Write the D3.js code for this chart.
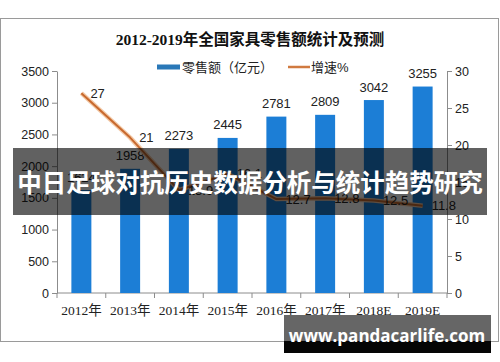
<!DOCTYPE html>
<html>
<head>
<meta charset="utf-8">
<script src="https://cdn.jsdelivr.net/npm/d3@7"></script>
<style>
  body { margin: 0; background: #fff; }
  svg { display: block; }
  text { font-family: "Liberation Sans", "Noto Sans CJK SC", sans-serif; }
</style>
</head>
<body>
<svg id="chart" width="500" height="362"></svg>
<script>
// Data
var years = ["2012年", "2013年", "2014年", "2015年", "2016年", "2017年", "2018E", "2019E"];
var sales = [1624, 1958, 2273, 2445, 2781, 2809, 3042, 3255];   // 零售额（亿元）
var growth = [27, 21, 13.9, 16.1, 12.7, 12.8, 12.5, 11.8];      // 增速%
var leftTicks = [0, 500, 1000, 1500, 2000, 2500, 3000, 3500];
var rightTicks = [0, 5, 10, 15, 20, 25, 30];

var barColor = "#1c7ed6";
var lineColor = "#c8692e";
var axisColor = "#8c8c8c";

var svg = d3.select("#chart");

// outer frame
svg.append("rect")
    .attr("x", 0.5).attr("y", 18.5)
    .attr("width", 498).attr("height", 323)
    .attr("fill", "#fff")
    .attr("stroke", "#9a9a9a");

// title
svg.append("text")
    .attr("x", 250).attr("y", 45)
    .attr("text-anchor", "middle")
    .style("font-family", "'Liberation Serif', 'Noto Sans CJK SC', serif")
    .style("font-size", "15.5px")
    .style("font-weight", "bold")
    .attr("fill", "#111")
    .text("2012-2019年全国家具零售额统计及预测");

// scales
var x = d3.scaleBand().domain(years).range([57, 447]).paddingInner(0.59).paddingOuter(0.295);
var yL = d3.scaleLinear().domain([0, 3500]).range([293, 71]);
var yR = d3.scaleLinear().domain([0, 30]).range([293, 71]);

// legend
var legend = svg.append("g").style("font-size", "13px").attr("fill", "#222");
legend.append("rect").attr("x", 157).attr("y", 64.5).attr("width", 23).attr("height", 5).attr("fill", "#2a78b8");
legend.append("text").attr("x", 182).attr("y", 67).attr("dy", "0.35em").text("零售额（亿元）");
legend.append("line").attr("x1", 288).attr("x2", 310).attr("y1", 67).attr("y2", 67)
    .attr("stroke", "#d07a40").attr("stroke-width", 2.5);
legend.append("text").attr("x", 311).attr("y", 67).attr("dy", "0.35em").text("增速%");

// left axis
var gL = svg.append("g")
    .attr("transform", "translate(57,0)")
    .call(d3.axisLeft(yL).tickValues(leftTicks).tickFormat(d3.format("d"))
        .tickSize(5).tickPadding(3).tickSizeOuter(0));
// right axis
var gR = svg.append("g")
    .attr("transform", "translate(447,0)")
    .call(d3.axisRight(yR).tickValues(rightTicks).tickFormat(d3.format("d"))
        .tickSize(5).tickPadding(3).tickSizeOuter(0));

[gL, gR].forEach(function (g) {
    g.select(".domain").attr("stroke", axisColor);
    g.selectAll(".tick line").attr("stroke", axisColor);
    g.selectAll(".tick text")
        .attr("fill", "#222")
        .style("font-family", "'Liberation Sans', sans-serif")
        .style("font-size", "12.5px");
});

// x axis: baseline, ticks on category boundaries, labels at centers
var gX = svg.append("g");
gX.append("line")
    .attr("x1", x.range()[0]).attr("x2", x.range()[1])
    .attr("y1", yL(0)).attr("y2", yL(0))
    .attr("stroke", axisColor);
gX.selectAll("line.tk")
    .data(d3.range(years.length + 1))
    .enter().append("line").attr("class", "tk")
    .attr("x1", function (i) { return x.range()[0] + i * x.step(); })
    .attr("x2", function (i) { return x.range()[0] + i * x.step(); })
    .attr("y1", yL(0)).attr("y2", yL(0) + 5)
    .attr("stroke", axisColor);
gX.selectAll("text")
    .data(years)
    .enter().append("text")
    .attr("x", function (d) { return x(d) + x.bandwidth() / 2; })
    .attr("y", 310)
    .attr("dy", "0.35em")
    .attr("text-anchor", "middle")
    .attr("fill", "#222")
    .style("font-family", "'Liberation Serif', 'Noto Sans CJK SC', serif")
    .style("font-size", "13.5px")
    .text(function (d) { return d; });

// bars
svg.append("g").selectAll("rect")
    .data(sales)
    .enter().append("rect")
    .attr("x", function (d, i) { return x(years[i]); })
    .attr("y", function (d) { return yL(d); })
    .attr("width", x.bandwidth())
    .attr("height", function (d) { return yL(0) - yL(d); })
    .attr("fill", barColor);

// bar labels
svg.append("g").selectAll("text")
    .data(sales)
    .enter().append("text")
    .attr("x", function (d, i) { return x(years[i]) + x.bandwidth() / 2; })
    .attr("y", function (d) { return yL(d) - 13; })
    .attr("dy", "0.35em")
    .attr("text-anchor", "middle")
    .attr("fill", "#222")
    .style("font-size", "13px")
    .text(function (d) { return d; });

// growth line
var line = d3.line()
    .x(function (d, i) { return x(years[i]) + x.bandwidth() / 2; })
    .y(function (d) { return yR(d); });

svg.append("path")
    .datum(growth)
    .attr("d", line)
    .attr("fill", "none")
    .attr("stroke", "#f3c9a6")
    .attr("stroke-width", 4.5)
    .attr("stroke-linejoin", "round");
svg.append("path")
    .datum(growth)
    .attr("d", line)
    .attr("fill", "none")
    .attr("stroke", lineColor)
    .attr("stroke-width", 2)
    .attr("stroke-linejoin", "round");

svg.append("g").selectAll("text")
    .data(growth)
    .enter().append("text")
    .attr("x", function (d, i) { return x(years[i]) + x.bandwidth() / 2 + 9; })
    .attr("y", function (d) { return yR(d); })
    .attr("dy", "0.35em")
    .attr("fill", "#222")
    .style("font-size", "13px")
    .text(function (d) { return d; });

// overlay banner
svg.append("rect")
    .attr("x", 13).attr("y", 148)
    .attr("width", 474).attr("height", 67)
    .attr("fill", "rgba(0,0,0,0.62)");
svg.append("text")
    .attr("x", 250).attr("y", 183)
    .attr("dy", "0.36em")
    .attr("text-anchor", "middle")
    .attr("fill", "#fff")
    .style("font-family", "'Noto Sans CJK SC', sans-serif")
    .style("font-size", "24.5px")
    .style("font-weight", "bold")
    .text("中日足球对抗历史数据分析与统计趋势研究");

// site watermark box
svg.append("rect")
    .attr("x", 284).attr("y", 315)
    .attr("width", 207).attr("height", 26)
    .attr("fill", "#666");
svg.append("rect")
    .attr("x", 284).attr("y", 341)
    .attr("width", 207).attr("height", 12)
    .attr("fill", "#050505");
svg.append("text")
    .attr("x", 387).attr("y", 336)
    .attr("dy", "0.36em")
    .attr("text-anchor", "middle")
    .attr("fill", "#fff")
    .style("font-family", "'Open Sans', 'DejaVu Sans', sans-serif")
    .style("font-size", "17px")
    .style("font-weight", "bold")
    .text("www.pandacarlife.com");
</script>
</body>
</html>
